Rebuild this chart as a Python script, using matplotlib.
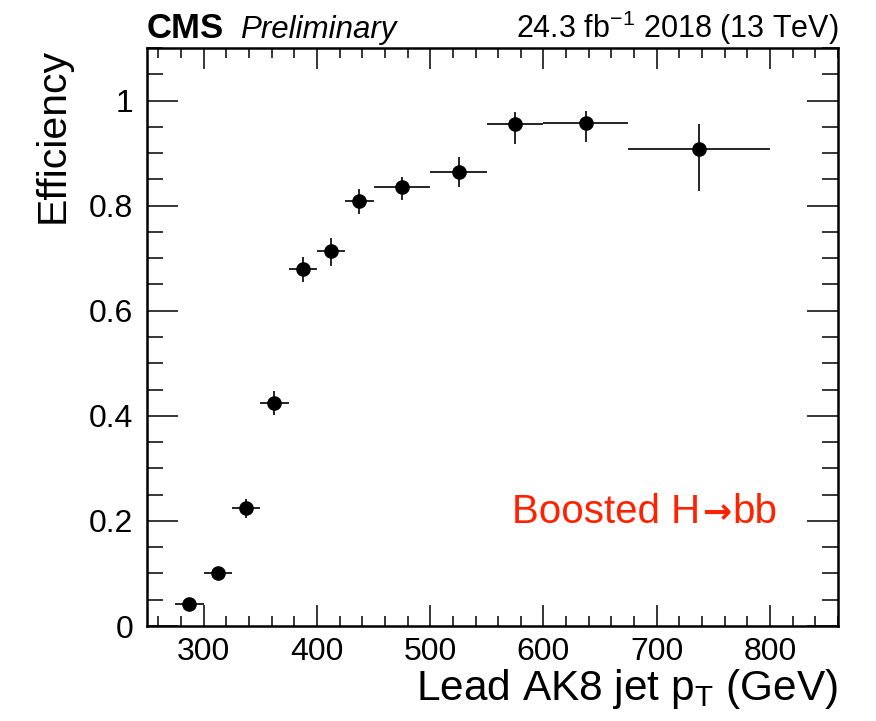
import matplotlib
matplotlib.use("Agg")
import matplotlib.pyplot as plt
import numpy as np
from matplotlib.ticker import MultipleLocator, FixedLocator, FuncFormatter

plt.rcParams['font.family'] = ['Liberation Sans', 'DejaVu Sans']
plt.rcParams['mathtext.fontset'] = 'custom'
plt.rcParams['mathtext.rm'] = 'Liberation Sans'

bin_lo = [275, 300, 325, 350, 375, 400, 425, 450, 500, 550, 600, 675]
bin_hi = [300, 325, 350, 375, 400, 425, 450, 500, 550, 600, 675, 800]
eff = [0.041, 0.101, 0.224, 0.425, 0.679, 0.714, 0.809, 0.835, 0.864, 0.956, 0.958, 0.908]
err_up = [0.008, 0.010, 0.018, 0.023, 0.023, 0.025, 0.023, 0.020, 0.028, 0.023, 0.022, 0.048]
err_dn = [0.008, 0.010, 0.018, 0.023, 0.025, 0.028, 0.025, 0.024, 0.029, 0.039, 0.037, 0.081]
x_ticks = [300, 400, 500, 600, 700, 800]
y_ticks = [0, 0.2, 0.4, 0.6, 0.8, 1.0]

lo = np.array(bin_lo, float)
hi = np.array(bin_hi, float)
xc = 0.5 * (lo + hi)
xe = 0.5 * (hi - lo)

fig = plt.figure(figsize=(8.76, 7.21), dpi=100)
ax = fig.add_axes([147/876, 1 - 626/721, (838-147)/876, (626-48)/721])

ax.errorbar(xc, eff, xerr=xe, yerr=[err_dn, err_up], fmt='o', color='black',
            markersize=9.5, elinewidth=1.2, capsize=0)

ax.set_xlim(250, 860)
ax.set_ylim(0, 1.1)
ax.xaxis.set_major_locator(FixedLocator(x_ticks))
ax.xaxis.set_minor_locator(MultipleLocator(20))
ax.yaxis.set_major_locator(FixedLocator(y_ticks))
ax.yaxis.set_minor_locator(MultipleLocator(0.05))
ax.yaxis.set_major_formatter(FuncFormatter(lambda v, p: ('%g' % v)))

ax.tick_params(axis='both', which='both', direction='in', top=True, right=True,
               width=1.1, labelsize=23)
ax.tick_params(axis='x', which='major', length=15, pad=8)
ax.tick_params(axis='x', which='minor', length=7.5)
ax.tick_params(axis='y', which='major', length=22, pad=10)
ax.tick_params(axis='y', which='minor', length=11.5)
for s in ax.spines.values():
    s.set_linewidth(1.8)

ax.set_xlabel(r'Lead AK8 jet p$_{\mathregular{T}}$ (GeV)', fontsize=30.5, loc='right', labelpad=0)
ax.set_ylabel('Efficiency', fontsize=29.5, loc='top', labelpad=12)

ax.text(0.0, 1.017, 'CMS', transform=ax.transAxes, fontsize=25, fontweight='bold',
        ha='left', va='baseline')
ax.text(0.135, 1.017, 'Preliminary', transform=ax.transAxes, fontsize=22.5, style='italic',
        ha='left', va='baseline')
ax.text(1.0, 1.017, r'24.3 fb$^{\mathregular{-1}}$ 2018 (13 TeV)', transform=ax.transAxes,
        fontsize=22, ha='right', va='baseline')

t1 = ax.text(512/876, 1 - 523/721, 'Boosted H', transform=fig.transFigure, fontsize=29,
             color='#ff2200', ha='left', va='baseline')
fig.canvas.draw()
bb = t1.get_window_extent()
t2 = ax.text(bb.x1 / 876 + 0.002, 1 - 523/721, '\u2192', transform=fig.transFigure, fontsize=25,
             color='#ff2200', ha='left', va='baseline', family=['DejaVu Sans'], fontweight='bold')
fig.canvas.draw()
bb2 = t2.get_window_extent()
ax.text(bb2.x1 / 876 + 0.002, 1 - 523/721, 'bb', transform=fig.transFigure, fontsize=29,
        color='#ff2200', ha='left', va='baseline')

fig.savefig('out.png', dpi=100)
